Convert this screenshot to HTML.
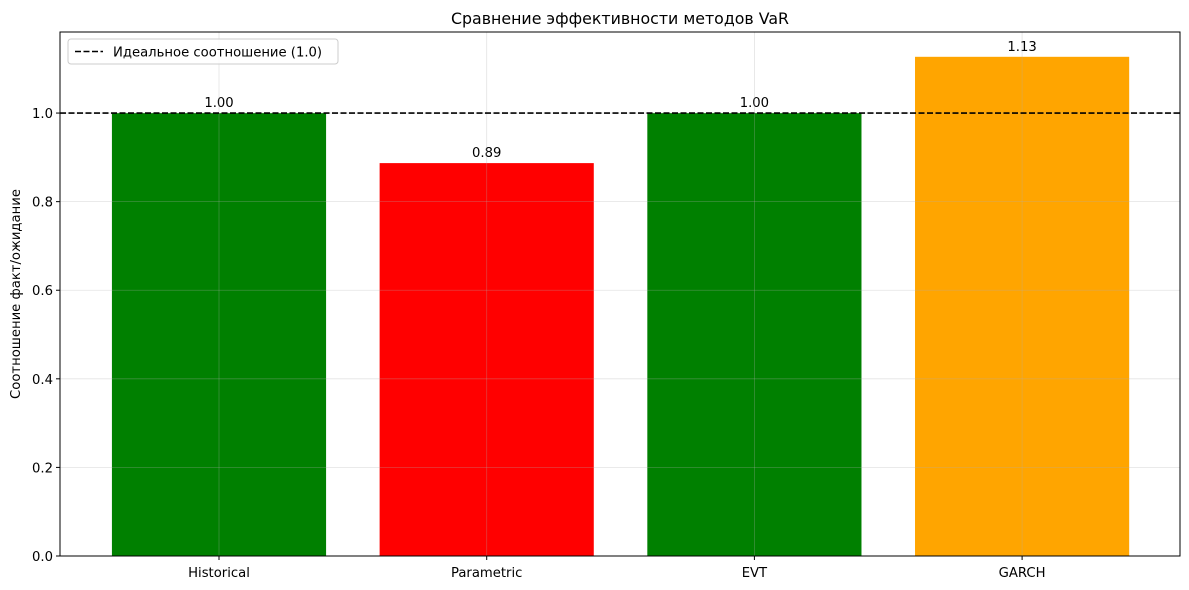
<!DOCTYPE html>
<html><head><meta charset="utf-8">
<style>
html,body{margin:0;padding:0;background:#fff;}
svg{display:block;font-family:"DejaVu Sans","Liberation Sans",sans-serif;}
</style></head>
<body>
<svg id="chart" width="1189" height="590"></svg>
<script>
const categories = ["Historical","Parametric","EVT","GARCH"];
const ratios = [1.0, 0.887, 1.0, 1.127];
const valueLabels = ["1.00","0.89","1.00","1.13"];
const barColors = ["green","red","green","orange"];
const yTicks = [0.0,0.2,0.4,0.6,0.8,1.0];
const yTickLabels = ["0.0","0.2","0.4","0.6","0.8","1.0"];
const idealValue = 1.0;

const L=60,R=1180,T=32,B=556;
const yMax=1.183;
const unit=267.7, x0=219;
const FS=13.2;
const sx=i=>x0+i*unit;
const sy=v=>B-v/yMax*(B-T);
const svg=document.getElementById('chart');
const NS='http://www.w3.org/2000/svg';
function mk(tag,attrs,text){const e=document.createElementNS(NS,tag);for(const k in attrs)e.setAttribute(k,attrs[k]);if(text!==undefined)e.textContent=text;svg.appendChild(e);return e;}

ratios.forEach((v,i)=>{
  const w=0.8*unit,x=sx(i)-w/2;
  const r=mk('rect',{x:x,y:sy(v),width:w,height:B-sy(v),fill:barColors[i]});
  
  
  const t=mk('text',{x:sx(i),y:sy(v)-6,'text-anchor':'middle','font-size':FS,fill:'#000'},valueLabels[i]);
  
  
});
yTicks.forEach((v,i)=>{
  const g=mk('line',{x1:L,x2:R,y1:sy(v),y2:sy(v),stroke:'#b0b0b0','stroke-opacity':0.35,'stroke-width':0.8});
  
  
  mk('line',{x1:L-4,x2:L,y1:sy(v),y2:sy(v),stroke:'#000'});
  const t=mk('text',{x:L-7,y:sy(v)+5,'text-anchor':'end','font-size':FS},yTickLabels[i]);
  
  
});
categories.forEach((c,i)=>{
  const g=mk('line',{x1:sx(i),x2:sx(i),y1:T,y2:B,stroke:'#b0b0b0','stroke-opacity':0.35,'stroke-width':0.8});
  
  
  mk('line',{x1:sx(i),x2:sx(i),y1:B,y2:B+4,stroke:'#000'});
  const t=mk('text',{x:sx(i),y:B+21,'text-anchor':'middle','font-size':FS},c);
  
  
});
const il=mk('line',{x1:L,x2:R,y1:sy(idealValue),y2:sy(idealValue),stroke:'#000','stroke-width':1.6,'stroke-dasharray':'6,2.5'});


const fr=mk('rect',{x:L,y:T,width:R-L,height:B-T,fill:'none',stroke:'#000','stroke-width':1});


const ti=mk('text',{x:(L+R)/2,y:24,'text-anchor':'middle','font-size':15.8},'Сравнение эффективности методов VaR');


const yt=mk('text',{x:0,y:0,'text-anchor':'middle','font-size':FS,transform:`translate(20,${(T+B)/2}) rotate(-90)`},'Соотношение факт/ожидание');


const lb=mk('rect',{x:68,y:39,width:270,height:25,rx:3,fill:'#fff','fill-opacity':0.8,stroke:'#ccc'});


mk('line',{x1:75,x2:103,y1:51.5,y2:51.5,stroke:'#000','stroke-width':1.6,'stroke-dasharray':'6,2.5'});
const lt=mk('text',{x:113,y:56.5,'font-size':FS},'Идеальное соотношение (1.0)');


</script>
</body></html>
